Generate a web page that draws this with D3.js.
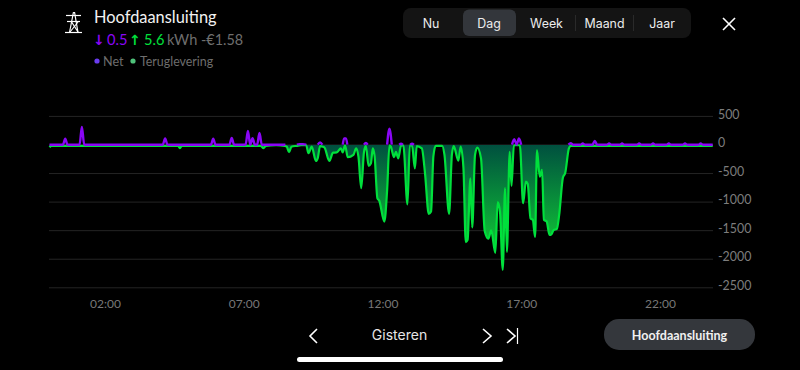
<!DOCTYPE html>
<html><head><meta charset="utf-8">
<style>html,body{margin:0;padding:0;background:#000;overflow:hidden}svg{display:block}
text{font-family:Lato,sans-serif}
.axis path,.axis line{display:none}</style>
<script src="https://cdn.jsdelivr.net/npm/d3@7"></script></head><body>
<svg id="c" width="800" height="370"></svg>
<script>
// Minutes since midnight, watts
const greenMinutes=[0,4,278,282,286,444,457,462,468,490,509,513,518,523,535,544,555,560,567,576,580,585,591,595,605,613,621,630,634,639,645,657,663,668,674,680,684,690,695,699,703,709,713,724,730,735,738,745,749,754,760,765,774,779,784,790,794,805,812,820,825,830,835,849,854,864,870,874,884,889,895,900,904,910,914,920,925,933,941,949,955,964,969,974,980,985,989,995,999,1004,1017,1024,1030,1034,1040,1045,1050,1054,1060,1065,1069,1075,1081,1084,1090,1097,1102,1110,1115,1123,1127,1434];
const greenValues=[-40,-15,-15,-55,-15,-15,-15,-55,-15,-5,-15,-30,-125,-30,-15,-5,-5,-145,-30,-280,-230,-20,-30,-50,-280,-135,-130,-60,-130,-5,-215,-175,-60,-205,-755,-120,-15,-365,-320,-60,-200,-935,-975,-1340,-790,-5,-30,-215,-120,-235,-15,-5,-1040,-5,-15,-410,-20,-60,-500,-1205,-1165,-200,-15,-15,-175,-1205,-175,-20,-275,-30,-400,-1700,-1660,-585,-1445,-175,-45,-235,-1505,-1640,-1495,-1890,-1000,-1165,-2185,-755,-1870,-120,-715,-5,-5,-1020,-640,-680,-1285,-1310,-1610,-90,-555,-435,-1310,-1340,-1575,-1575,-1490,-1470,-1225,-575,-490,-60,-15,-15];
const netMinutes=[0,29,34,39,65,70,75,245,250,255,349,354,359,389,394,399,424,429,434,439,444,449,454,459,510,null,535,540,548,555,null,580,585,590,null,634,637,641,644,null,680,684,688,null,730,735,740,null,756,760,764,null,780,784,788,null,1000,1005,1010,1015,1020,null,1122,1127,1132,1148,1153,1158,1174,1179,1184,1205,1210,1215,1233,1238,1243,1270,1275,1280,1300,1305,1310,1334,1339,1344,1369,1374,1379,1403,1408,1413,1434];
const netValues=[5,5,110,5,5,315,5,5,115,5,5,110,5,5,125,5,5,245,5,120,5,5,210,5,5,null,5,15,15,5,null,5,45,5,null,5,115,115,5,null,5,35,5,null,5,285,5,null,5,20,5,null,5,20,5,null,5,100,5,115,5,null,5,30,5,5,25,5,5,70,5,5,25,5,5,25,5,5,25,5,5,25,5,5,25,5,5,25,5,5,25,5,5];
const yTicks=[500,0,-500,-1000,-1500,-2000,-2500];
const xTicks=[120,420,720,1020,1320];
const xTickLabels=["02:00","07:00","12:00","17:00","22:00"];
const periods=["Nu","Dag","Week","Maand","Jaar"];
const periodX=[431,489,546.5,604.5,662];

const svg=d3.select("#c");
const x=d3.scaleLinear().domain([0,1440]).range([49.5,715.5]);
const y=d3.scaleLinear().domain([500,-2500]).range([116.4,287.8]);
const defs=svg.append("defs");
const grad=defs.append("linearGradient").attr("id","g").attr("gradientUnits","userSpaceOnUse")
  .attr("x1",0).attr("x2",0).attr("y1",y(0)).attr("y2",y(-1950));
grad.append("stop").attr("offset",0).attr("stop-color","#00503f");
grad.append("stop").attr("offset",1).attr("stop-color","#12cf35");

// grid
svg.append("g").selectAll("line").data(yTicks).join("line")
  .attr("x1",49).attr("x2",713).attr("y1",d=>y(d)).attr("y2",d=>y(d))
  .attr("stroke","#242424").attr("stroke-width",1);

const green=greenMinutes.map((m,i)=>({m,v:greenValues[i]}));
const net=netMinutes.map((m,i)=>({m,v:netValues[i]}));
const curve=d3.curveMonotoneX;
svg.append("path").datum(green)
  .attr("d",d3.area().x(d=>x(d.m)).y0(y(0)).y1(d=>y(d.v)).curve(curve))
  .attr("fill","url(#g)");
svg.append("path").datum(green)
  .attr("d",d3.line().x(d=>x(d.m)).y(d=>y(d.v)).curve(curve))
  .attr("fill","none").attr("stroke","#00e03c").attr("stroke-width",2.2).attr("stroke-linejoin","round");
svg.append("path").datum(net)
  .attr("d",d3.line().defined(d=>d.m!==null).x(d=>x(d.m)).y(d=>y(d.v)).curve(curve))
  .attr("fill","none").attr("stroke","#8a06f5").attr("stroke-width",2.4).attr("stroke-linejoin","round");

// axes
const ya=svg.append("g").attr("class","axis").attr("transform","translate(718,0)")
  .call(d3.axisRight(y).tickValues(yTicks).tickSize(0).tickPadding(0).tickFormat(d=>String(d)));
ya.selectAll("text").attr("dy","0.14em").attr("fill","#7d7d7d").style("font-size","12.4px").style("font-family","Lato");
const xa=svg.append("g").attr("class","axis").attr("transform","translate(0,299.5)")
  .call(d3.axisBottom(x).tickValues(xTicks).tickSize(0).tickPadding(0).tickFormat((d,i)=>xTickLabels[i]));
xa.selectAll("text").attr("dy","0.7em").attr("fill","#777").style("font-size","12px").style("font-family","Lato");

// header
const icon=svg.append("g").attr("stroke","#fff").attr("fill","none").attr("stroke-width",1.2);
[[65,32.5,82,32.5],[66,15.5,81,15.5],[67,21.5,80,21.5],[73.5,12,69.5,32.5],[74.5,12,78,32.5],[71,21,78,32],[78,22,70,32]].forEach(s=>{
  icon.append("line").attr("x1",s[0]).attr("y1",s[1]).attr("x2",s[2]).attr("y2",s[3]);});
function t(str,tx,ty,size,fill,anchor,weight,fam){
  return svg.append("text").attr("x",tx).attr("y",ty).text(str).attr("fill",fill)
   .attr("text-anchor",anchor||"start").style("font-size",size+"px")
   .style("font-weight",weight||400).style("font-family",fam||"Lato");}
t("Hoofdaansluiting",94,23,16.4,"#f2f2f2");
t("↓",93,45,14,"#8a06f5","start",700,"DejaVu Sans");
t("0.5",107,45,14.6,"#8a06f5");
t("↑",129,45,14,"#00e03c","start",700,"DejaVu Sans");
t("5.6",144,45,14.6,"#00e03c");
t("kWh",167,45,14.6,"#6e6e6e");
t("-€1.58",201,45,14.4,"#6e6e6e");
svg.append("circle").attr("cx",97).attr("cy",61).attr("r",2.6).attr("fill","#6a3cf0");
t("Net",103,66,12.6,"#6e6e6e");
svg.append("circle").attr("cx",133).attr("cy",61).attr("r",2.6).attr("fill","#4fc27a");
t("Teruglevering",140,66,12.4,"#6e6e6e");

// segmented control
svg.append("rect").attr("x",403).attr("y",8).attr("width",288).attr("height",30).attr("rx",8).attr("fill","#141414");
svg.append("rect").attr("x",463).attr("y",9.5).attr("width",53).attr("height",26.5).attr("rx",6).attr("fill","#33363b");
[575.5,633.5].forEach(sx=>svg.append("line").attr("x1",sx).attr("x2",sx).attr("y1",15).attr("y2",31).attr("stroke","#2a2a2a"));
periods.forEach((p,i)=>t(p,periodX[i],28,12.4,"#ececec","middle",400,"Inter"));
const cross=svg.append("g").attr("stroke","#fff").attr("stroke-width",1.6);
cross.append("line").attr("x1",723).attr("y1",18).attr("x2",735).attr("y2",30);
cross.append("line").attr("x1",735).attr("y1",18).attr("x2",723).attr("y2",30);

// bottom nav
const nav=svg.append("g").attr("stroke","#fff").attr("stroke-width",1.6).attr("fill","none");
nav.append("path").attr("d","M317 329L310 336L317 343");
nav.append("path").attr("d","M483 329L491 336L483 343");
nav.append("path").attr("d","M507 329L515 336L507 343");
nav.append("path").attr("d","M517.5 328V344").attr("stroke-width",1.2);
t("Gisteren",399.5,340,14,"#e6e6e6","middle",400,"Inter");
svg.append("rect").attr("x",604).attr("y",319).attr("width",151).attr("height",31).attr("rx",15).attr("fill","#34373c");
t("Hoofdaansluiting",679.5,340,12.5,"#f0f0f0","middle",700);
svg.append("rect").attr("x",297).attr("y",357).attr("width",206).attr("height",5).attr("rx",2.5).attr("fill","#fff");
</script></body></html>
